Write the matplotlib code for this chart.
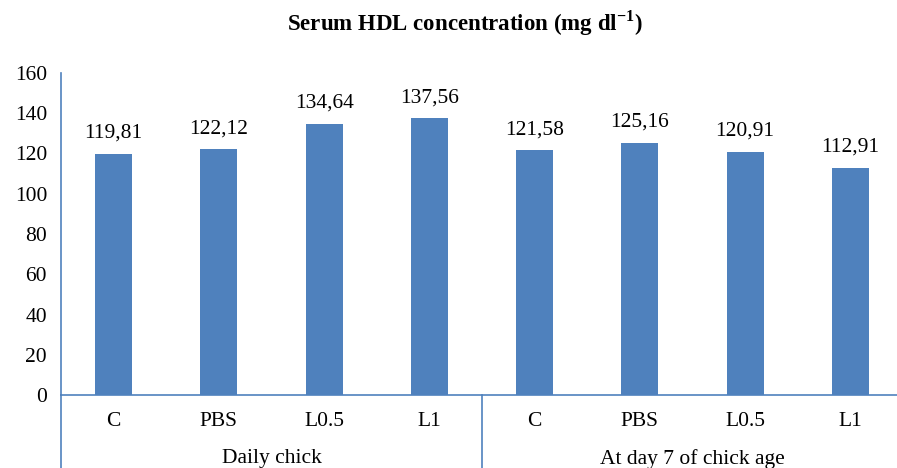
import matplotlib.pyplot as plt
from matplotlib.transforms import blended_transform_factory

plt.rcParams['font.family'] = ['Liberation Serif', 'DejaVu Serif']
plt.rcParams['mathtext.fontset'] = 'custom'
plt.rcParams['mathtext.rm'] = 'Liberation Serif'
plt.rcParams['mathtext.bf'] = 'Liberation Serif:bold'

groups = ["Daily chick", "At day 7 of chick age"]
treatments = ["C", "PBS", "L0.5", "L1"]
hdl_values = [119.81, 122.12, 134.64, 137.56, 121.58, 125.16, 120.91, 112.91]
yticks = [0, 20, 40, 60, 80, 100, 120, 140, 160]

bar_color = '#4F81BD'
line_color = '#4F81BD'
fs = 15.5

fig = plt.figure(figsize=(8.97, 4.68), dpi=100)
ax = fig.add_axes([61 / 897, 73 / 468, 842 / 897, 322 / 468])

x = list(range(len(hdl_values)))
bars = ax.bar(x, hdl_values, width=0.35, color=bar_color, zorder=2)

for xi, v in zip(x, hdl_values):
    label = f"{v:.2f}".replace('.', ',')
    ax.annotate(label, (xi, v), xytext=(0, 8), textcoords='offset points',
                ha='center', va='bottom', fontsize=fs)

ax.set_xlim(-0.5, len(hdl_values) - 0.5)
ax.set_ylim(0, 160)
ax.set_yticks(yticks)
ax.tick_params(axis='y', length=0, pad=10, labelsize=fs)
ax.set_xticks([])

for side in ['top', 'right']:
    ax.spines[side].set_visible(False)
for side in ['left', 'bottom']:
    ax.spines[side].set_color(line_color)
    ax.spines[side].set_linewidth(1.2)

# two-level category axis
trans = blended_transform_factory(ax.transData, ax.transAxes)
depth = 75 / 322
for g, name in enumerate(groups):
    for i, t in enumerate(treatments):
        ax.text(g * 4 + i, -26 / 322, t, transform=trans, ha='center',
                va='center', fontsize=fs)
    ax.text(g * 4 + 1.5, -64 / 322, name, transform=trans, ha='center',
            va='center', fontsize=fs)
for sep in [-0.5, 3.5, 7.5]:
    ax.plot([sep, sep], [0, -depth], transform=trans, color=line_color,
            lw=1.2, clip_on=False)

fig.text(465 / 897, 1 - 23 / 468, r"Serum HDL concentration (mg dl$^{\mathbf{-1}}$)",
         ha='center', va='center', fontsize=16.5, fontweight='bold')

fig.savefig('out.png', dpi=100)
